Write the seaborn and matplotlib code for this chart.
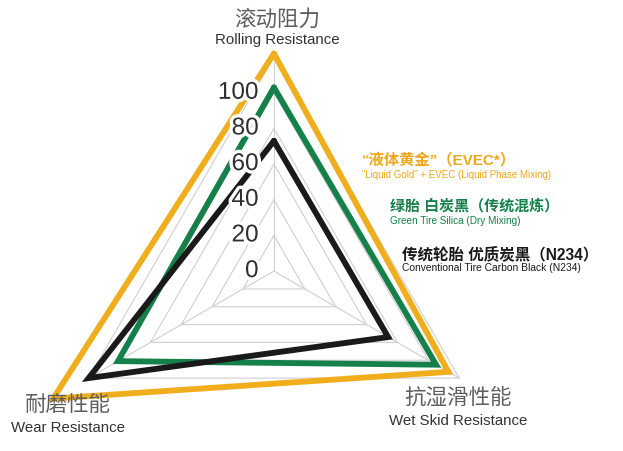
import numpy as np
import pandas as pd
import matplotlib.pyplot as plt
import matplotlib.patheffects as pe
import seaborn as sns

# axes of the radar (clockwise from top)
axis_cn = ["滚动阻力", "抗湿滑性能", "耐磨性能"]
axis_en = ["Rolling Resistance", "Wet Skid Resistance", "Wear Resistance"]

# values
evec = [122, 113, 143]
silica = [103, 105, 101]
carbon = [73, 74, 120]

series_names = ["EVEC", "Silica", "N234"]
series_colors = ["#F0AD1C", "#15804A", "#1B1A1A"]

tick_values = [0, 20, 40, 60, 80, 100]
grid_levels = [20, 40, 60, 80, 100, 120]

legend_cn = ["“液体黄金”（EVEC*）", "绿胎 白炭黑（传统混炼）", "传统轮胎 优质炭黑（N234）"]
legend_en = ["“Liquid Gold” + EVEC (Liquid Phase Mixing)",
             "Green Tire Silica (Dry Mixing)",
             "Conventional Tire Carbon Black (N234)"]

sns.set_theme(style="white")
plt.rcParams["font.family"] = ["Liberation Sans", "Noto Sans CJK SC", "DejaVu Sans"]

theta = np.deg2rad([0, 120, 240])
theta_closed = np.append(theta, 2 * np.pi)

rows = []
for name, vals in zip(series_names, [evec, silica, carbon]):
    closed = vals + vals[:1]
    for t, v in zip(theta_closed, closed):
        rows.append({"theta": t, "r": v, "series": name})
df = pd.DataFrame(rows)

W, H = 623, 452
fig = plt.figure(figsize=(W / 100, H / 100), dpi=100)
ax = fig.add_axes([0.0247, -0.174, 0.830, 1.144], projection="polar")
ax.set_theta_offset(np.pi / 2)
ax.set_theta_direction(-1)
ax.set_ylim(0, 145)
ax.grid(False)
ax.set_xticks([])
ax.set_yticks([])
ax.spines["polar"].set_visible(False)
ax.patch.set_alpha(0)

# triangular grid
for lv in grid_levels:
    ax.plot(theta_closed, [lv] * 4, color="#cfcfcf", lw=0.8, zorder=1)
for t in theta:
    ax.plot([t, t], [0, grid_levels[-1]], color="#cfcfcf", lw=0.8, zorder=1)

sns.lineplot(data=df, x="theta", y="r", hue="series", hue_order=series_names,
             palette=series_colors, sort=False, estimator=None, legend=False,
             ax=ax, lw=4.2, solid_joinstyle="miter", clip_on=False, zorder=3)
ax.set_xlabel("")
ax.set_ylabel("")

# radial tick labels on the top axis
for v in tick_values:
    ax.annotate(str(v), xy=(0, v), xytext=(-11, 0), textcoords="offset points",
                ha="right", va="center", fontsize=17.5, color="#2e2e2e", zorder=10,
                path_effects=[pe.withStroke(linewidth=5, foreground="white")])

# axis titles
def ftext(x, y, s, **kw):
    fig.text(x / W, 1 - y / H, s, ha="center", va="center", **kw)

label_pos = [(277, 20, 40), (458, 398, 421), (68, 405, 428)]
for (x, ycn, yen), cn, en in zip(label_pos, axis_cn, axis_en):
    ftext(x, ycn, cn, fontsize=15.5, color="#5e5e5e")
    ftext(x, yen, en, fontsize=10.8, color="#333333")

# legend block
legend_pos = [(362, 160, 175), (390, 206, 221), (402, 254, 268)]
legend_size = [(11, 7), (10.8, 7.2), (11.2, 7.4)]
text_colors = ["#EFA71A", "#15804A", "#1B1A1A"]
for (x, y1, y2), (s1, s2), c, cn, en in zip(legend_pos, legend_size, text_colors,
                                           legend_cn, legend_en):
    fig.text(x / W, 1 - y1 / H, cn, ha="left", va="center", fontsize=s1,
             fontweight="bold", color=c)
    fig.text(x / W, 1 - y2 / H, en, ha="left", va="center", fontsize=s2, color=c)

fig.savefig("out.png", dpi=100)
